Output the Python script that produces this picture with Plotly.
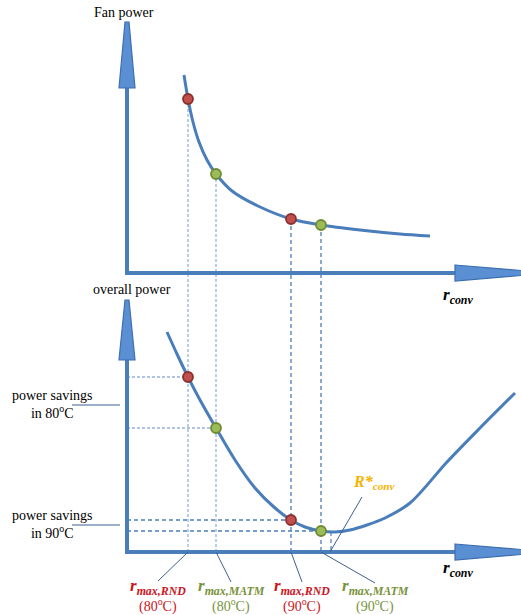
import plotly.graph_objects as go

# Fan power vs r_conv (top panel); r_conv measured from the axis origin, power above the axis
fan_r = [57, 61, 66, 72, 80, 89, 105, 131, 164, 194, 233, 273, 303]
fan_p = [198, 174, 151, 131, 113, 99, 82, 67, 54, 48, 43, 39, 37]

# Overall power vs r_conv (bottom panel)
tot_r = [40, 50, 61, 73, 89, 108, 128, 148, 164, 178, 194, 208, 223, 240, 258, 283, 320, 353, 388]
tot_p = [220, 198, 175, 152, 124, 92, 64, 44, 32, 25, 21, 20, 22, 27, 34, 49, 90, 124, 159]

# Operating points: r_max for RND / MATM at 80 and 90 degC
pt_names = ["RND80", "MATM80", "RND90", "MATM90"]
pt_r = [61, 89, 164, 194]
pt_fan = [174, 99, 54, 48]
pt_tot = [175, 124, 32, 21]
pt_kind = ["RND", "MATM", "RND", "MATM"]
pt_temp = ["80", "80", "90", "90"]
r_star = 204
r_star_p = 20

# Vertical distance between the two panels' origins (in axis units)
PANEL_OFFSET = 279

BLUE = "#4a7ebb"
LIGHT = "#95b3d7"
RED_TXT = "#cc141c"
GREEN_TXT = "#77933c"
GOLD = "#f5b300"
SERIF = "Liberation Serif"

fig = go.Figure()

# ---- dashed guide lines ----
shapes = []
for r, pf, pt, t in zip(pt_r, pt_fan, pt_tot, pt_temp):
    col = LIGHT if t == "80" else BLUE
    dash = "3px,2px" if t == "80" else "4px,3px"
    # vertical: from the fan-power point down to the lower r_conv axis
    shapes.append(dict(type="line", xref="x", yref="y", x0=r, x1=r, y0=pf, y1=-PANEL_OFFSET,
                       line=dict(color=col, width=1.3, dash=dash), layer="below"))
    # horizontal: from the overall-power axis to the point
    shapes.append(dict(type="line", xref="x", yref="y2", x0=0, x1=r, y0=pt, y1=pt,
                       line=dict(color=col, width=1.3, dash=dash), layer="below"))
# optimum R*
shapes.append(dict(type="line", xref="x", yref="y2", x0=r_star, x1=r_star, y0=r_star_p, y1=0,
                   line=dict(color=BLUE, width=1.2, dash="4px,3px"), layer="below"))

# ---- axes drawn as thick lines with tapered arrow heads ----
AX = dict(color=BLUE, width=4)
HEAD_FILL = "#5a8fd3"
HEAD_LINE = "#3d6fb0"
for yr, top_len, tip in (("y", 185, 251), ("y2", 192, 252)):
    shapes.append(dict(type="line", xref="x", yref=yr, x0=0, x1=0, y0=-2, y1=top_len, line=AX))
    shapes.append(dict(type="line", xref="x", yref=yr, x0=-2, x1=330, y0=0, y1=0, line=AX))
    # vertical arrow head
    shapes.append(dict(type="path", xref="x", yref=yr,
                       path=f"M -8,{top_len} L 8,{top_len} L 2,{tip} L -2,{tip} Z",
                       fillcolor=HEAD_FILL, line=dict(color=HEAD_LINE, width=1.2)))
    # horizontal arrow head
    shapes.append(dict(type="path", xref="x", yref=yr,
                       path="M 328,8 L 400,2 L 400,-2 L 328,-8 Z",
                       fillcolor=HEAD_FILL, line=dict(color=HEAD_LINE, width=1.2)))

# leader lines for the power-savings labels
for v in (147, 27):
    shapes.append(dict(type="line", xref="x", yref="y2", x0=-55, x1=-7, y0=v, y1=v,
                       line=dict(color="#3d5f8f", width=1)))

# leader lines from the r_conv axis to the bottom labels
LEAD = dict(color="#3d5f8f", width=1)
label_r = [31, 104, 175, 248]
label_top = [-29, -30, -30, -31]
for r, lr, lt in zip(pt_r, label_r, label_top):
    shapes.append(dict(type="line", xref="x", yref="y2", x0=r, x1=lr, y0=0, y1=lt, line=LEAD))
# leader from R*_conv label to the optimum
shapes.append(dict(type="line", xref="x", yref="y2", x0=235, x1=r_star - 1, y0=55, y1=0, line=LEAD))

# ---- curves ----
fig.add_trace(go.Scatter(x=fan_r, y=fan_p, mode="lines", yaxis="y",
                         line=dict(color=BLUE, width=3, shape="spline", smoothing=0.8),
                         hoverinfo="skip", showlegend=False))
fig.add_trace(go.Scatter(x=tot_r, y=tot_p, mode="lines", yaxis="y2",
                         line=dict(color=BLUE, width=3, shape="spline", smoothing=0.9),
                         hoverinfo="skip", showlegend=False))

# ---- operating points ----
fills = ["#c0504d" if k == "RND" else "#9bbb59" for k in pt_kind]
edges = ["#8c2f2c" if k == "RND" else "#6e8a34" for k in pt_kind]
for yr, vals in (("y", pt_fan), ("y2", pt_tot)):
    fig.add_trace(go.Scatter(x=pt_r, y=vals, mode="markers", yaxis=yr, text=pt_names,
                             marker=dict(size=10, color=fills, line=dict(color=edges, width=1.8)),
                             hoverinfo="text", showlegend=False))

# ---- text ----
ann = []
def txt(x, y, s, yref="y", size=14, color="black", **kw):
    ann.append(dict(x=x, y=y, xref="x", yref=yref, text=s, showarrow=False,
                    font=dict(family=SERIF, size=size, color=color), **kw))

txt(-3, 261, "Fan power")
txt(5, 263, "overall power", yref="y2")
txt(331, -23, "<b><i>r<sub>conv</sub></i></b>", size=17)
txt(331, -17, "<b><i>r<sub>conv</sub></i></b>", yref="y2", size=17)
txt(-75, 148, "power savings<br>in 80<sup>o</sup>C", yref="y2")
txt(-75, 28, "power savings<br>in 90<sup>o</sup>C", yref="y2")
txt(247, 70, "<b><i>R*<sub>conv</sub></i></b>", yref="y2", size=16, color=GOLD)

for lr, k, t in zip(label_r, pt_kind, pt_temp):
    col = RED_TXT if k == "RND" else GREEN_TXT
    txt(lr, -35, f"<b><i>r<sub>max,{k}</sub></i></b>", yref="y2", size=17, color=col)
    txt(lr, -53, f"({t}<sup>o</sup>C)", yref="y2", size=14, color=col)

fig.update_layout(
    width=521, height=615,
    margin=dict(l=0, r=0, t=0, b=0),
    paper_bgcolor="white", plot_bgcolor="white",
    xaxis=dict(range=[-127, 394], visible=False, fixedrange=True),
    yaxis=dict(range=[-342, 273], visible=False, fixedrange=True, domain=[0, 1]),
    yaxis2=dict(range=[-63, 552], visible=False, fixedrange=True, overlaying="y", domain=[0, 1]),
    shapes=shapes,
    annotations=ann,
    showlegend=False,
)

fig.write_html("out.html")
